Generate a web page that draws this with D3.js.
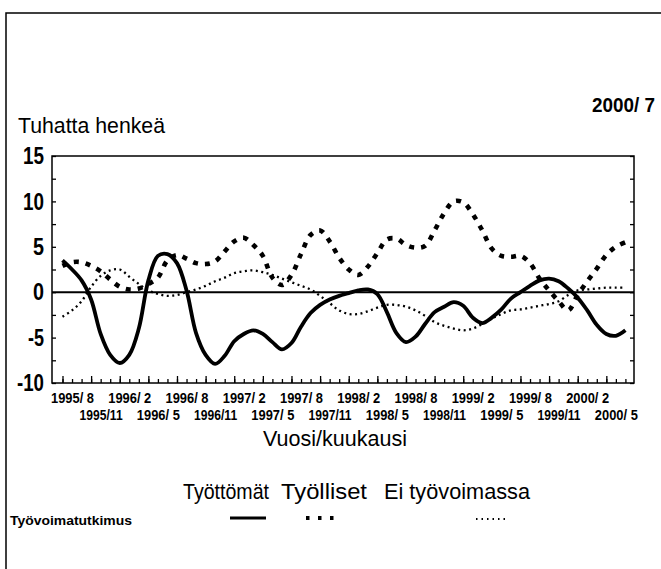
<!DOCTYPE html>
<html><head><meta charset="utf-8">
<script src="https://cdn.jsdelivr.net/npm/d3@7"></script>
<style>
html,body{margin:0;padding:0;background:#fff;}
text{font-family:"Liberation Sans",Arial,sans-serif;fill:#000;}
</style></head>
<body>
<svg id="chart" width="661" height="569"></svg>
<script>
// ---- data (month index 0 = 1995/8 ... 59 = 2000/7) ----
const tyottomat = [3.5,2.5,1.3,-0.8,-4.6,-6.9,-7.8,-6.9,-4.0,1.3,
  4.0,4.2,3.2,0.2,-4.5,-6.9,-7.9,-7.0,-5.4,-4.6,
  -4.2,-4.6,-5.5,-6.3,-5.6,-3.8,-2.3,-1.4,-0.8,-0.4,
  -0.1,0.2,0.3,-0.2,-2.2,-4.5,-5.5,-4.9,-3.5,-2.2,
  -1.6,-1.1,-1.5,-2.8,-3.4,-2.8,-1.9,-0.7,0.0,0.7,
  1.3,1.5,1.2,0.4,-0.6,-2.0,-3.6,-4.6,-4.8,-4.2];
const tyolliset = [2.9,3.3,3.3,2.9,2.3,1.4,0.6,0.3,0.4,0.9,
  1.6,3.5,4.1,3.7,3.2,3.1,3.4,4.5,5.6,6.0,
  5.2,4.0,1.6,0.8,1.9,4.2,6.3,6.8,5.6,3.8,
  2.5,1.9,2.8,4.3,5.8,5.9,5.2,4.9,5.1,6.8,
  8.7,10.0,9.9,8.6,6.8,4.8,4.0,3.9,4.0,3.2,
  1.5,0.2,-1.0,-2.0,-0.3,1.2,2.6,4.1,5.0,5.5];
const eiTyovoimassa = [-2.7,-2.0,-1.0,0.6,1.8,2.4,2.5,1.7,0.9,0.2,
  -0.2,-0.4,-0.3,0.0,0.3,0.7,1.2,1.6,2.1,2.3,
  2.4,2.2,1.9,1.5,1.1,0.7,0.3,-0.4,-1.2,-2.0,
  -2.4,-2.4,-2.1,-1.7,-1.4,-1.4,-1.6,-2.0,-2.6,-3.3,
  -3.7,-4.0,-4.2,-4.0,-3.5,-2.9,-2.4,-2.0,-1.9,-1.7,
  -1.5,-1.3,-1.0,-0.3,0.2,0.3,0.4,0.5,0.5,0.5];
const xLabels = ["1995/ 8","1995/11","1996/ 2","1996/ 5","1996/ 8","1996/11","1997/ 2","1997/ 5",
  "1997/ 8","1997/11","1998/ 2","1998/ 5","1998/ 8","1998/11","1999/ 2","1999/ 5",
  "1999/ 8","1999/11","2000/ 2","2000/ 5"];
const yTickLabels = [-10,-5,0,5,10,15];
const seriesNames = ["Työttömät","Työlliset","Ei työvoimassa"];

const svg = d3.select("#chart");
const L=52, R=634, T=156, B=383;
const x = d3.scaleLinear().domain([-1.1,59.9]).range([L,R]);
const y = d3.scaleLinear().domain([-10,15]).range([B,T]);
const fit = (s,w)=>s.attr("textLength",w).attr("lengthAdjust","spacingAndGlyphs");

// outer frame
svg.append("path").attr("d","M6,569 L6,13 L661,13").attr("fill","none").attr("stroke","#000").attr("stroke-width",1.5);

// titles
svg.append("text").attr("x",18).attr("y",133).attr("font-size",22).text("Tuhatta henkeä").call(fit,147);
svg.append("text").attr("x",592).attr("y",112).attr("font-size",20).attr("font-weight","bold").text("2000/ 7").call(fit,63);

// plot frame
svg.append("rect").attr("x",L).attr("y",T).attr("width",R-L).attr("height",B-T)
  .attr("fill","none").attr("stroke","#000").attr("stroke-width",1.5);

// inward ticks
const yt = d3.range(-10,15.01,2.5);
svg.append("g").attr("transform",`translate(${L},0)`).call(d3.axisRight(y).tickValues(yt).tickSize(4).tickFormat(""))
  .call(g=>g.select(".domain").remove());
svg.append("g").attr("transform",`translate(${R},0)`).call(d3.axisLeft(y).tickValues(yt).tickSize(4).tickFormat(""))
  .call(g=>g.select(".domain").remove());
svg.append("g").attr("transform",`translate(0,${B})`).call(d3.axisTop(x).tickValues(d3.range(0,60)).tickSize(4).tickFormat(""))
  .call(g=>g.select(".domain").remove());
svg.append("g").attr("transform",`translate(0,${B})`).call(d3.axisTop(x).tickValues(d3.range(0,60,3)).tickSize(7).tickFormat(""))
  .call(g=>g.select(".domain").remove());
svg.selectAll(".tick line").attr("stroke","#000").attr("stroke-width",1.3);

// y labels
const yW = {"-10":27,"-5":16,"0":11,"5":11,"10":21,"15":21};
svg.append("g").selectAll("text").data(yTickLabels).join("text")
  .attr("x",d=>44-yW[d]).attr("y",d=>y(d)).attr("dy","0.36em")
  .attr("font-size",23).attr("font-weight","bold").text(d=>String(d))
  .attr("textLength",d=>yW[d]).attr("lengthAdjust","spacingAndGlyphs");

// x labels
svg.append("g").selectAll("text").data(xLabels).join("text")
  .attr("x",(d,i)=>x(i*3)+10-21.5).attr("y",(d,i)=>i%2===0?403:420)
  .attr("font-size",14.5).attr("font-weight","bold").text(d=>d).call(fit,43);

svg.append("text").attr("x",263).attr("y",446).attr("font-size",22).text("Vuosi/kuukausi").call(fit,144);

// zero line
svg.append("line").attr("x1",L).attr("x2",R).attr("y1",y(0)).attr("y2",y(0)).attr("stroke","#000").attr("stroke-width",2);

// series
const line = d3.line().x((d,i)=>x(i)).y(d=>y(d)).curve(d3.curveCatmullRom.alpha(0.5));
svg.append("path").datum(eiTyovoimassa).attr("d",line).attr("fill","none").attr("stroke","#000")
  .attr("stroke-width",2.3).attr("stroke-dasharray","2,3.5");
svg.append("path").datum(tyolliset).attr("d",line).attr("fill","none").attr("stroke","#000")
  .attr("stroke-width",4.6).attr("stroke-dasharray","5,7");
svg.append("path").datum(tyottomat).attr("d",line).attr("fill","none").attr("stroke","#000")
  .attr("stroke-width",3.8).attr("stroke-linejoin","round");

// legend
const lx = [183,281,384], lw=[86,86,146];
svg.append("g").selectAll("text").data(seriesNames).join("text")
  .attr("x",(d,i)=>lx[i]).attr("y",499).attr("font-size",22).text(d=>d)
  .attr("textLength",(d,i)=>lw[i]).attr("lengthAdjust","spacingAndGlyphs");
svg.append("line").attr("x1",230).attr("x2",266).attr("y1",518).attr("y2",518).attr("stroke","#000").attr("stroke-width",3);
svg.append("line").attr("x1",306).attr("x2",334).attr("y1",518).attr("y2",518).attr("stroke","#000").attr("stroke-width",4).attr("stroke-dasharray","3.5,8.5");
svg.append("line").attr("x1",476).attr("x2",508).attr("y1",519).attr("y2",519).attr("stroke","#000").attr("stroke-width",1.8).attr("stroke-dasharray","1.5,4");
svg.append("text").attr("x",10).attr("y",525).attr("font-size",13).attr("font-weight","bold").text("Työvoimatutkimus").call(fit,122);
</script>
</body></html>
